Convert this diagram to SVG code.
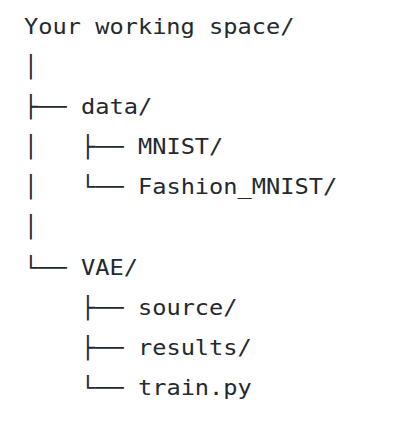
<svg xmlns="http://www.w3.org/2000/svg" width="420" height="422" viewBox="0 0 420 422">
  <style>
    .t { font-family: "DejaVu Sans Mono", "Liberation Mono", monospace; font-size: 23.65px; fill: #24292f; }
  </style>
  <rect width="420" height="422" fill="#ffffff"/>
  <!-- monospace tree; glyphs squeezed vertically to the narrower line face -->
  <g transform="scale(1 0.91)">
    <g id="connectors" class="t">
      <text x="24" y="81.43">│</text>
      <text x="24" y="125.49">├──</text>
      <text x="24" y="169.56">│</text>
      <text x="80.96" y="169.56">├──</text>
      <text x="24" y="213.63">│</text>
      <text x="80.96" y="213.63">└──</text>
      <text x="24" y="257.69">│</text>
      <text x="24" y="301.76">└──</text>
      <text x="80.96" y="345.82">├──</text>
      <text x="80.96" y="389.89">├──</text>
      <text x="80.96" y="433.96">└──</text>
    </g>
    <g id="root"><text class="t" x="24" y="37.36">Your working space/</text></g>
    <g id="data"><text class="t" x="80.96" y="125.49">data/</text></g>
    <g id="mnist"><text class="t" x="137.92" y="169.56">MNIST/</text></g>
    <g id="fashion-mnist"><text class="t" x="137.92" y="213.63">Fashion_MNIST/</text></g>
    <g id="vae"><text class="t" x="80.96" y="301.76">VAE/</text></g>
    <g id="source"><text class="t" x="137.92" y="345.82">source/</text></g>
    <g id="results"><text class="t" x="137.92" y="389.89">results/</text></g>
    <g id="train"><text class="t" x="137.92" y="433.96">train.py</text></g>
  </g>
</svg>
